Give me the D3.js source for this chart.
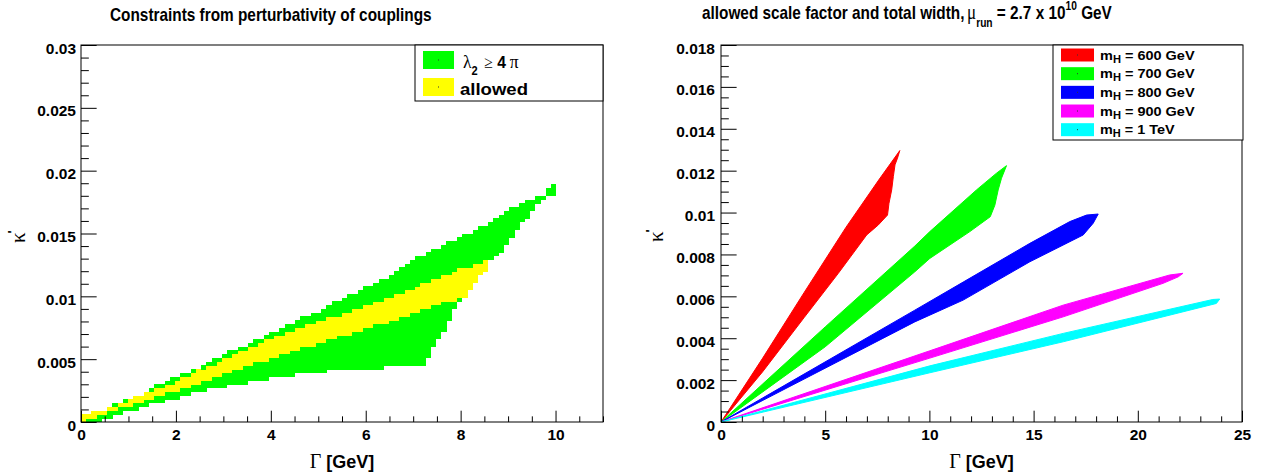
<!DOCTYPE html>
<html><head><meta charset="utf-8">
<script src="https://cdn.jsdelivr.net/npm/d3@7"></script>
<style>body{margin:0;background:#fff} svg{display:block}</style>
</head><body>
<svg id="c" width="1261" height="476"></svg>
<script>
// ---------------- DATA ----------------
// Left panel: region outlines in the (Gamma [GeV], kappa') plane, filled as 2D-histogram cells
const greenUpper = [[0,0.0002],[0.72,0.00141],[1.31,0.00231],[1.91,0.00345],[2.58,0.00443],[2.93,0.00525],[3.56,0.00618],[3.98,0.00711],[4.55,0.00804],[5.02,0.00883],[5.33,0.00947],[6.0,0.01069],[6.62,0.01189],[6.94,0.01281],[7.6,0.01398],[8.27,0.0152],[8.69,0.0161],[9.26,0.01738],[9.8,0.01822],[9.9,0.01883],[10.01,0.01883]];
const greenRight = [[10.01,0.01825],[9.71,0.01764],[9.36,0.0161],[9.05,0.01459],[8.8,0.01313],[8.59,0.01287],[8.48,0.01194],[8.27,0.01101],[8.06,0.00982],[7.92,0.00942],[7.81,0.00836],[7.6,0.0069],[7.39,0.00571],[7.25,0.00451]];
const greenLower = [[6.87,0.00451],[5.74,0.00411],[5.18,0.00406],[5.04,0.00385],[4.62,0.0038],[3.63,0.00324],[2.79,0.00266],[2.23,0.00212],[1.81,0.00173],[1.24,0.00114],[0.68,0.00053],[0.47,0.00013],[0,0]];
const yellowUpper = [[0,0.0004],[0.82,0.00146],[2.02,0.00326],[2.93,0.00485],[3.91,0.00648],[5.04,0.008],[6.0,0.0093],[7.0,0.01065],[8.0,0.0122],[8.59,0.01287]];
const yellowRight = [[8.59,0.01207],[8.48,0.0119],[8.27,0.011],[8.06,0.00982]];
const yellowLower = [[7.71,0.00955],[7.0,0.00862],[6.0,0.0074],[5.04,0.0063],[3.91,0.00495],[2.93,0.00372],[2.02,0.00252],[0.82,0.00107],[0,0]];
// histogram binning of the left panel: [min, max, nbins]
const histXBins = [0, 11, 100];
const histYBins = [0, 0.03, 100];

// Right panel: allowed bands per Higgs mass (upper edge, then lower edge from tip back to origin)
const mH600Upper = [[0,0],[2,0.00305],[4,0.0062],[6,0.0093],[7.6,0.0116],[8.58,0.01296]];
const mH600Lower = [[8.47,0.0126],[8.35,0.01228],[8.27,0.01172],[8.19,0.01108],[8.06,0.01044],[7.99,0.00988],[7.55,0.00941],[6.99,0.00893],[5.63,0.0071],[4,0.005],[2,0.0024],[0,0]];
const mH700Upper = [[0,0],[5,0.00454],[9.3,0.0084],[10.02,0.00909],[12.26,0.01108],[13.22,0.01188],[13.7,0.01224]];
const mH700Lower = [[13.46,0.01164],[13.3,0.01108],[13.14,0.01035],[12.92,0.0098],[11.94,0.00909],[10.02,0.00781],[9.3,0.00717],[5,0.00359],[0,0]];
const mH800Upper = [[0,0],[9.3,0.00534],[11.62,0.00668],[14.82,0.00853],[16.74,0.00957],[17.54,0.00988],[18.1,0.00993]];
const mH800Lower = [[17.86,0.00949],[17.38,0.00893],[16.74,0.00861],[14.82,0.00765],[11.62,0.00582],[9.3,0.00478],[0,0]];
const mH900Upper = [[0,0],[10.02,0.0034],[16.42,0.00558],[21.53,0.00702],[22.17,0.0071]];
const mH900Lower = [[21.94,0.00693],[21.21,0.00662],[16.42,0.00502],[10.02,0.00305],[0,0]];
const mH1000Upper = [[0,0],[10.02,0.00268],[16.42,0.00423],[23.6,0.00585],[23.93,0.00587]];
const mH1000Lower = [[23.77,0.00566],[16.42,0.00383],[10.02,0.00235],[0,0]];

const rightSeriesNames = ["600 GeV","700 GeV","800 GeV","900 GeV","1 TeV"];
const rightSeriesColors = ["#ff0000","#00ff00","#0000ff","#ff00ff","#00ffff"];

// Tick values and labels
const leftXTicks = [0,2,4,6,8,10];
const leftXLabels = ["0","2","4","6","8","10"];
const leftYTicks = [0,0.005,0.01,0.015,0.02,0.025,0.03];
const leftYLabels = ["0","0.005","0.01","0.015","0.02","0.025","0.03"];
const rightXTicks = [0,5,10,15,20,25];
const rightXLabels = ["0","5","10","15","20","25"];
const rightYTicks = [0,0.002,0.004,0.006,0.008,0.01,0.012,0.014,0.016,0.018];
const rightYLabels = ["0","0.002","0.004","0.006","0.008","0.01","0.012","0.014","0.016","0.018"];

// ---------------- DRAWING ----------------
const SANS = "'Liberation Sans', Arial, Helvetica, sans-serif";
const SERIF = "'Liberation Serif', 'Times New Roman', serif";
const svg = d3.select("#c");

const xL = d3.scaleLinear([0,11],[81,603]);
const yL = d3.scaleLinear([0,0.03],[422,45]);
const xR = d3.scaleLinear([0,25],[721,1242]);
const yR = d3.scaleLinear([0,0.018],[422,45]);

function clip(id, x, y){
  svg.append("clipPath").attr("id",id).append("rect")
    .attr("x",x.range()[0]).attr("y",y.range()[1])
    .attr("width",x.range()[1]-x.range()[0]).attr("height",y.range()[0]-y.range()[1]);
}
clip("cl", xL, yL); clip("cr", xR, yR);

// left regions as histogram cells
const gL = svg.append("g").attr("clip-path","url(#cl)").attr("shape-rendering","crispEdges");
const greenPoly = greenUpper.concat(greenRight, greenLower);
const yellowPoly = yellowUpper.concat(yellowRight, yellowLower);
const dx = (histXBins[1]-histXBins[0])/histXBins[2];
const dy = (histYBins[1]-histYBins[0])/histYBins[2];
const cells = [];
for (let i=0;i<histXBins[2];i++){
  for (let j=0;j<histYBins[2];j++){
    const c = [histXBins[0]+(i+0.5)*dx, histYBins[0]+(j+0.5)*dy];
    let col = null;
    if (d3.polygonContains(yellowPoly, c)) col = "#ffff00";
    else if (d3.polygonContains(greenPoly, c)) col = "#00ff00";
    if (col) cells.push({i, j, col});
  }
}
gL.selectAll("rect.cell").data(cells).join("rect").attr("class","cell")
  .attr("x", d=>xL(histXBins[0]+d.i*dx))
  .attr("width", d=>xL(histXBins[0]+(d.i+1)*dx)-xL(histXBins[0]+d.i*dx)+0.3)
  .attr("y", d=>yL(histYBins[0]+(d.j+1)*dy))
  .attr("height", d=>yL(histYBins[0]+d.j*dy)-yL(histYBins[0]+(d.j+1)*dy)+0.3)
  .attr("fill", d=>d.col);

// right bands
const gR = svg.append("g").attr("clip-path","url(#cr)");
const lineR = d3.line().x(d=>xR(d[0])).y(d=>yR(d[1]));
const bands = [[mH600Upper,mH600Lower],[mH700Upper,mH700Lower],[mH800Upper,mH800Lower],[mH900Upper,mH900Lower],[mH1000Upper,mH1000Lower]];
bands.forEach((b,i)=>{
  gR.append("path").attr("d", lineR(b[0].concat(b[1]))+"Z")
    .attr("fill", rightSeriesColors[i]).attr("stroke", rightSeriesColors[i]).attr("stroke-width",1);
});

// axes
function axes(x, y, xT, xLab, xMinorStep, yT, yLab, yMinorStep, yPad){
  const g = svg.append("g").attr("font-family",SANS).attr("font-weight","bold");
  const x0 = x.range()[0], y0 = y.range()[0];
  const yLen = 0.03*(x.range()[1]-x.range()[0]);
  const xLen = 0.03*(y.range()[0]-y.range()[1]);
  const xMinor = d3.range(x.domain()[0], x.domain()[1]+1e-9, xMinorStep).filter(v=>!xT.some(t=>Math.abs(t-v)<1e-9));
  const yMinor = d3.range(y.domain()[0], y.domain()[1]+1e-12, yMinorStep).filter(v=>!yT.some(t=>Math.abs(t-v)<1e-12));
  const ax = g.append("g").attr("transform",`translate(0,${y0})`)
    .call(d3.axisBottom(x).tickValues(xT).tickFormat((d,i)=>xLab[i]).tickSizeInner(-xLen).tickSizeOuter(0).tickPadding(7));
  ax.selectAll("text").attr("font-size",15.5).attr("fill","#000");
  g.append("g").attr("transform",`translate(0,${y0})`)
    .call(d3.axisBottom(x).tickValues(xMinor).tickFormat("").tickSizeInner(-xLen/2).tickSizeOuter(0));
  const ay = g.append("g").attr("transform",`translate(${x0},0)`)
    .call(d3.axisLeft(y).tickValues(yT).tickFormat((d,i)=>yLab[i]).tickSizeInner(-yLen).tickSizeOuter(0).tickPadding(yPad));
  ay.selectAll("text").attr("font-size",15.5).attr("dy","0.52em").attr("fill","#000");
  g.append("g").attr("transform",`translate(${x0},0)`)
    .call(d3.axisLeft(y).tickValues(yMinor).tickFormat("").tickSizeInner(-yLen/2).tickSizeOuter(0));
  g.selectAll(".domain").remove();
  g.selectAll(".tick line").attr("stroke","#000").attr("stroke-width",1);
  g.attr("font-size",15.5);
  svg.append("rect").attr("x",x0).attr("y",y.range()[1])
    .attr("width",x.range()[1]-x0).attr("height",y0-y.range()[1])
    .attr("fill","none").attr("stroke","#000").attr("stroke-width",1);
}
axes(xL, yL, leftXTicks, leftXLabels, 0.5, leftYTicks, leftYLabels, 0.001, 5);
axes(xR, yR, rightXTicks, rightXLabels, 1, rightYTicks, rightYLabels, 0.0005, 6);

// axis titles
function xTitle(cx){
  const t = svg.append("text").attr("x",cx).attr("y",468).attr("text-anchor","middle");
  t.append("tspan").attr("font-family",SERIF).attr("font-size",20).text("Γ");
  t.append("tspan").attr("font-family",SANS).attr("font-weight","bold").attr("font-size",18).text(" [GeV]");
}
xTitle(342); xTitle(981.5);
function yTitle(x, y){
  const t = svg.append("text").attr("transform",`translate(${x},${y}) rotate(-90)`)
    .attr("font-family",SERIF).attr("font-size",21);
  t.append("tspan").text("κ");
  t.append("tspan").attr("font-family",SANS).attr("font-weight","bold").attr("font-size",13).attr("dy",-8).attr("dx",-1).text("'");
}
yTitle(25, 243); yTitle(663, 242);

// Rich text fitted horizontally into [x, x+target] (ROOT-like stretched/condensed text)
function richText(x, y, target, parts){
  const t = svg.append("text").attr("font-family",SANS).attr("font-weight","bold");
  parts.forEach(p=>{
    const o = p[1] || {};
    const s = t.append("tspan").text(p[0]);
    if (o.font) s.attr("font-family", o.font);
    if (o.weight) s.attr("font-weight", o.weight);
    s.attr("font-size", o.size || 18);
    if (o.dy) s.attr("dy", o.dy);
    if (o.dx) s.attr("dx", o.dx);
  });
  const bb = t.node().getBBox();
  const k = target / bb.width;
  t.attr("transform", `translate(${x - bb.x*k},${y}) scale(${k},1)`);
  return t;
}
// titles
richText(110, 21, 322, [["Constraints from perturbativity of couplings",{size:18}]]);
richText(702, 19, 410, [
  ["allowed scale factor and total width,",{size:18}],
  ["μ",{font:SERIF, weight:"normal", size:20, dx:3}],
  ["run",{size:12, dy:8}],
  [" = 2.7 x 10",{size:18, dy:-8}],
  ["10",{size:12, dy:-9}],
  [" GeV",{size:18, dy:9}]
]);

// left legend
svg.append("rect").attr("x",415).attr("y",45).attr("width",188).attr("height",56)
  .attr("fill","#fff").attr("stroke","#000").attr("stroke-width",1);
function swatch(x,y,w,h,c){
  svg.append("rect").attr("x",x).attr("y",y).attr("width",w).attr("height",h).attr("fill",c);
  svg.append("rect").attr("x",x+w/2-0.5).attr("y",y+h/2-0.5).attr("width",1).attr("height",1).attr("fill","#333");
}
swatch(423,51,31,18,"#00ff00");
swatch(423,78,31,18,"#ffff00");
richText(463, 67.5, 56, [
  ["λ",{font:SERIF, weight:"normal", size:19}],
  ["2",{size:12, dy:7}],
  ["≥",{font:SERIF, weight:"normal", size:17, dy:-7, dx:7}],
  ["4",{size:17, dx:5}],
  ["π",{font:SERIF, weight:"normal", size:19, dx:4}]
]);
richText(460, 95, 68, [["allowed",{size:16.5}]]);

// right legend
svg.append("rect").attr("x",1053).attr("y",45).attr("width",190).attr("height",95)
  .attr("fill","#fff").attr("stroke","#000").attr("stroke-width",1);
rightSeriesNames.forEach((n,i)=>{
  const cy = 55 + i*18.67;
  swatch(1061, cy-6.5, 33, 13, rightSeriesColors[i]);
  richText(1100, cy+4.5, n.length > 5 ? 95 : 75, [
    ["m",{size:13}],
    ["H",{size:10, dy:3}],
    [" = " + n,{size:13, dy:-3}]
  ]);
});
</script>
</body></html>
